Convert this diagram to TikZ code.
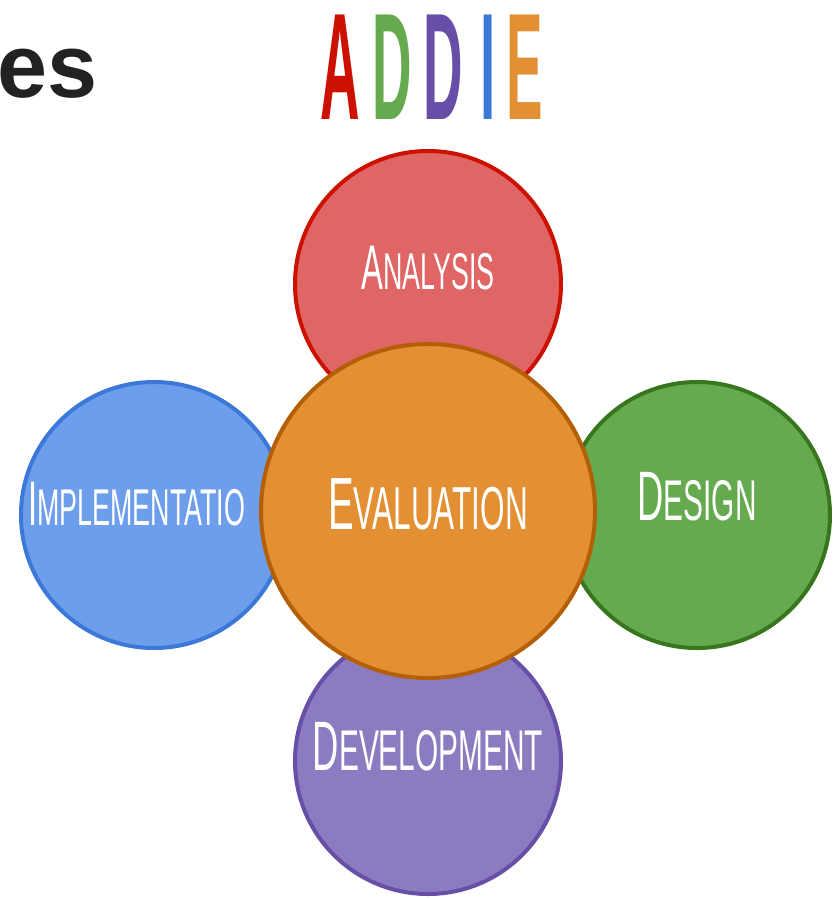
\documentclass[tikz,border=0pt]{standalone}
\usepackage{fontspec}
\usepackage{graphicx}
\usepackage{tikz}
\usetikzlibrary{calc}
\usetikzlibrary{positioning}
\setmainfont{Liberation Sans}
\newfontfamily\stagefont[FakeStretch=0.52]{Liberation Sans}
\newfontfamily\addiefont[FakeStretch=0.36]{Liberation Sans}
\newcommand{\stagename}[2]{#1\scalebox{0.82}{#2}}

\definecolor{anafill}{HTML}{E06666}
\definecolor{anadraw}{HTML}{CC1100}
\definecolor{evalfill}{HTML}{E39035}
\definecolor{evaldraw}{HTML}{B45F06}
\definecolor{desfill}{HTML}{66AA4F}
\definecolor{desdraw}{HTML}{38761D}
\definecolor{impfill}{HTML}{6D9EEB}
\definecolor{impdraw}{HTML}{3C78D8}
\definecolor{devfill}{HTML}{8B7CC1}
\definecolor{devdraw}{HTML}{674EA7}
\definecolor{esgray}{HTML}{222222}

\begin{document}
\begin{tikzpicture}[x=1pt, y=-1pt,
	stage/.style={circle, line width=4pt, minimum size=#1, inner sep=0pt},
	stagetext/.style={text=white, inner sep=0pt, font=\stagefont\fontsize{#1}{#1}\selectfont},
	titleletter/.style={inner sep=0pt, font=\addiefont\bfseries\fontsize{152}{152}\selectfont}]
	\useasboundingbox (0,0) rectangle (840,898);

	\node[anchor=base west, inner sep=0pt, text=esgray, font=\bfseries\fontsize{90}{90}\selectfont] (es) at (-3,97) {es};
	\foreach \ch/\col/\x [count=\i] in {A/anadraw/340, D/desfill/392, D/devdraw/443, I/impdraw/488, E/evalfill/525}
	\node[titleletter, text=\col] (letter\i) at (\x,67) {\ch};

	\node[stage=266pt, draw=anadraw, fill=anafill] (analysis) at (428,284) {};
	\node[stagetext=63pt] (analysis-t) at ([yshift=16pt]analysis.center) {\stagename{A}{NALYSIS}};

	\node[stage=266pt, draw=impdraw, fill=impfill] (implementation) at (154,515) {};
	\node[stagetext=63pt, anchor=west] (implementation-t) at ([xshift=9pt, yshift=11pt]implementation.west) {\stagename{I}{MPLEMENTATIO}};

	\node[stage=266pt, draw=desdraw, fill=desfill] (design) at (697,515) {};
	\node[stagetext=70pt] (design-t) at ([yshift=18pt]design.center) {\stagename{D}{ESIGN}};

	\node[stage=266pt, draw=devdraw, fill=devfill] (development) at (428,761) {};
	\node[stagetext=70pt] (development-t) at ([yshift=14pt]development.center) {\stagename{D}{EVELOPMENT}};

	\node[stage=334pt, draw=evaldraw, fill=evalfill] (evaluation) at (428,511) {};
	\node[stagetext=74pt] (evaluation-t) at ([yshift=7pt]evaluation.center) {\stagename{E}{VALUATION}};
\end{tikzpicture}
\end{document}
